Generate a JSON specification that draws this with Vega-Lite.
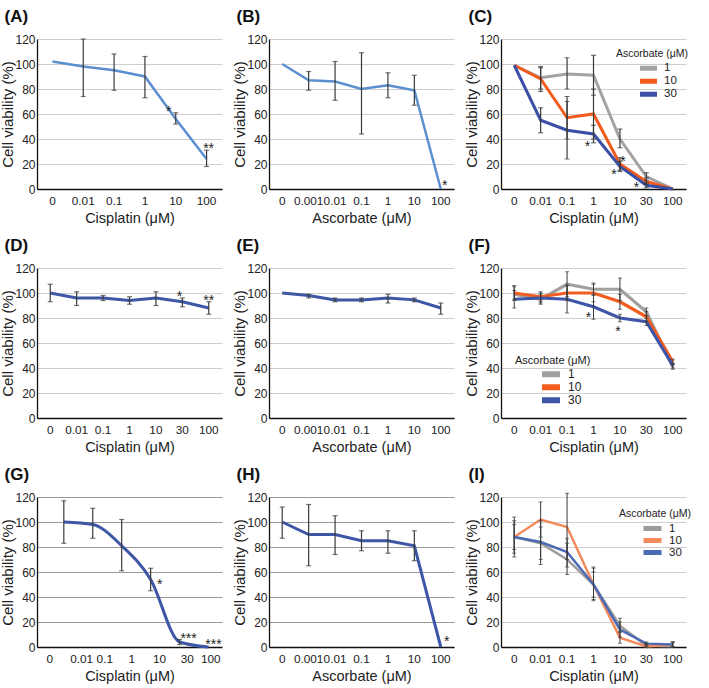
{
 "$schema": "https://vega.github.io/schema/vega-lite/v6.json",
 "padding": {"left": 0, "top": 8, "right": 0, "bottom": 0},
 "config": {
  "font": "Liberation Sans",
  "view": {"stroke": null},
  "axis": {"labelFont": "Liberation Sans", "titleFont": "Liberation Sans", "labelFontSize": 12, "titleFontSize": 14.5, "titleFontWeight": "normal", "labelColor": "#222", "titleColor": "#222", "ticks": false, "domainColor": "#111", "domainWidth": 1.3, "gridColor": "#cfcfcf", "gridWidth": 1},
  "axisX": {"labelAngle": 0, "labelPadding": 6, "titlePadding": 5, "grid": false, "labelOverlap": false, "labelFontSize": 11.8},
  "axisY": {"labelPadding": 2, "titlePadding": 1, "grid": true, "titleFontSize": 15, "tickCount": 6, "labelOverlap": false, "titleX": -21.5},
  "title": {"anchor": "start", "frame": "bounds", "fontSize": 17, "fontWeight": "bold", "offset": 7, "dx": 4, "font": "Liberation Sans", "color": "#111"},
  "legend": {"labelFont": "Liberation Sans", "titleFont": "Liberation Sans", "titleFontWeight": "normal", "labelColor": "#222", "titleColor": "#222"}
 },
 "datasets": {
  "A": [
   {"dose": "0", "v": 102},
   {"dose": "0.01", "v": 98, "lo": 74, "hi": 120},
   {"dose": "0.1", "v": 95, "lo": 79, "hi": 108},
   {"dose": "1", "v": 90, "lo": 73, "hi": 106},
   {"dose": "10", "v": 56, "lo": 52, "hi": 61},
   {"dose": "100", "v": 24, "lo": 18, "hi": 31}
  ],
  "sA1": [{"dose": "10", "v": 65, "t": "*"}],
  "sA2": [{"dose": "100", "v": 35, "t": "**"}],
  "B": [
   {"dose": "0", "v": 100},
   {"dose": "0.001", "v": 87, "lo": 79, "hi": 94},
   {"dose": "0.01", "v": 86, "lo": 71, "hi": 102},
   {"dose": "0.1", "v": 80, "lo": 44, "hi": 109},
   {"dose": "1", "v": 83, "lo": 73, "hi": 93},
   {"dose": "10", "v": 79, "lo": 67, "hi": 91},
   {"dose": "100", "v": 0}
  ],
  "sB": [{"dose": "100", "v": 6, "t": "*"}],
  "C": [
   {"dose": "0", "asc": "1", "v": 99},
   {"dose": "0.01", "asc": "1", "v": 89, "lo": 80, "hi": 98},
   {"dose": "0.1", "asc": "1", "v": 92, "lo": 80, "hi": 105},
   {"dose": "1", "asc": "1", "v": 91, "lo": 75, "hi": 107},
   {"dose": "10", "asc": "1", "v": 40, "lo": 33, "hi": 48},
   {"dose": "30", "asc": "1", "v": 10, "lo": 7, "hi": 13},
   {"dose": "100", "asc": "1", "v": 0},
   {"dose": "0", "asc": "10", "v": 99},
   {"dose": "0.01", "asc": "10", "v": 88, "lo": 78, "hi": 97},
   {"dose": "0.1", "asc": "10", "v": 57, "lo": 40, "hi": 74},
   {"dose": "1", "asc": "10", "v": 60, "lo": 40, "hi": 80},
   {"dose": "10", "asc": "10", "v": 20, "lo": 15, "hi": 25},
   {"dose": "30", "asc": "10", "v": 6, "lo": 4, "hi": 9},
   {"dose": "100", "asc": "10", "v": 0},
   {"dose": "0", "asc": "30", "v": 99},
   {"dose": "0.01", "asc": "30", "v": 55, "lo": 45, "hi": 65},
   {"dose": "0.1", "asc": "30", "v": 47, "lo": 24, "hi": 70},
   {"dose": "1", "asc": "30", "v": 44, "lo": 37, "hi": 51},
   {"dose": "10", "asc": "30", "v": 18, "lo": 14, "hi": 22},
   {"dose": "30", "asc": "30", "v": 3, "lo": 1, "hi": 5},
   {"dose": "100", "asc": "30", "v": 0}
  ],
  "sC1": [{"dose": "1", "v": 37, "t": "*"}, {"dose": "10", "v": 14.6, "t": "*"}],
  "sC2": [{"dose": "10", "v": 25, "t": "*"}],
  "sC3": [{"dose": "30", "v": 4, "t": "*"}],
  "D": [
   {"dose": "0", "v": 100, "lo": 93, "hi": 107},
   {"dose": "0.01", "v": 96, "lo": 90, "hi": 101},
   {"dose": "0.1", "v": 96, "lo": 94, "hi": 98},
   {"dose": "1", "v": 94, "lo": 91, "hi": 97},
   {"dose": "10", "v": 96, "lo": 90, "hi": 101},
   {"dose": "30", "v": 93, "lo": 89, "hi": 96},
   {"dose": "100", "v": 88, "lo": 83, "hi": 93}
  ],
  "sD1": [{"dose": "30", "v": 100, "t": "*"}],
  "sD2": [{"dose": "100", "v": 97, "t": "**"}],
  "E": [
   {"dose": "0", "v": 100},
   {"dose": "0.001", "v": 98, "lo": 96, "hi": 99},
   {"dose": "0.01", "v": 94.5, "lo": 93, "hi": 96},
   {"dose": "0.1", "v": 94.5, "lo": 93, "hi": 96},
   {"dose": "1", "v": 96, "lo": 92, "hi": 99},
   {"dose": "10", "v": 94.5, "lo": 93, "hi": 96},
   {"dose": "100", "v": 88, "lo": 83, "hi": 92}
  ],
  "F": [
   {"dose": "0", "asc": "1", "v": 99, "lo": 94, "hi": 105},
   {"dose": "0.01", "asc": "1", "v": 95, "lo": 91, "hi": 99},
   {"dose": "0.1", "asc": "1", "v": 107, "lo": 97, "hi": 117},
   {"dose": "1", "asc": "1", "v": 103, "lo": 98, "hi": 108},
   {"dose": "10", "asc": "1", "v": 103, "lo": 94, "hi": 112},
   {"dose": "30", "asc": "1", "v": 85, "lo": 82, "hi": 88},
   {"dose": "100", "asc": "1", "v": 41, "lo": 39, "hi": 43},
   {"dose": "0", "asc": "10", "v": 100, "lo": 95, "hi": 106},
   {"dose": "0.01", "asc": "10", "v": 97, "lo": 93, "hi": 101},
   {"dose": "0.1", "asc": "10", "v": 100, "lo": 94, "hi": 106},
   {"dose": "1", "asc": "10", "v": 100, "lo": 93, "hi": 107},
   {"dose": "10", "asc": "10", "v": 93, "lo": 87, "hi": 99},
   {"dose": "30", "asc": "10", "v": 81, "lo": 77, "hi": 85},
   {"dose": "100", "asc": "10", "v": 45, "lo": 43, "hi": 47},
   {"dose": "0", "asc": "30", "v": 95, "lo": 88, "hi": 102},
   {"dose": "0.01", "asc": "30", "v": 96, "lo": 92, "hi": 100},
   {"dose": "0.1", "asc": "30", "v": 95, "lo": 84, "hi": 106},
   {"dose": "1", "asc": "30", "v": 89, "lo": 79, "hi": 99},
   {"dose": "10", "asc": "30", "v": 80, "lo": 77, "hi": 83},
   {"dose": "30", "asc": "30", "v": 77, "lo": 74, "hi": 80},
   {"dose": "100", "asc": "30", "v": 42, "lo": 40, "hi": 44}
  ],
  "sF1": [{"dose": "1", "v": 83, "t": "*"}],
  "sF2": [{"dose": "10", "v": 72, "t": "*"}],
  "G": [
   {"step": 1, "v": 100, "lo": 83, "hi": 117},
   {"step": 2, "v": 98, "lo": 87, "hi": 111},
   {"step": 3, "v": 81, "lo": 61, "hi": 102},
   {"step": 4, "v": 54, "lo": 45, "hi": 63},
   {"step": 5, "v": 4, "lo": 2, "hi": 6},
   {"step": 6, "v": 0}
  ],
  "sG1": [{"step": 4, "v": 53, "t": "*"}, {"step": 5, "v": 10, "t": "***"}],
  "sG2": [{"step": 6, "v": 5, "t": "***"}],
  "H": [
   {"dose": "0", "v": 100, "lo": 87, "hi": 112},
   {"dose": "0.001", "v": 90, "lo": 65, "hi": 114},
   {"dose": "0.01", "v": 90, "lo": 74, "hi": 105},
   {"dose": "0.1", "v": 85, "lo": 77, "hi": 93},
   {"dose": "1", "v": 85, "lo": 75, "hi": 93},
   {"dose": "10", "v": 81, "lo": 69, "hi": 93},
   {"dose": "100", "v": 0}
  ],
  "sH": [{"dose": "100", "v": 7.5, "t": "*"}],
  "I": [
   {"dose": "0", "asc": "1", "v": 88, "lo": 72, "hi": 104},
   {"dose": "0.01", "asc": "1", "v": 83, "lo": 70, "hi": 96},
   {"dose": "0.1", "asc": "1", "v": 70, "lo": 58, "hi": 83},
   {"dose": "1", "asc": "1", "v": 50, "lo": 37, "hi": 63},
   {"dose": "10", "asc": "1", "v": 17, "lo": 12, "hi": 23},
   {"dose": "30", "asc": "1", "v": 1, "lo": 0, "hi": 3},
   {"dose": "100", "asc": "1", "v": 0.5, "lo": 0, "hi": 4},
   {"dose": "0", "asc": "10", "v": 88, "lo": 75, "hi": 101},
   {"dose": "0.01", "asc": "10", "v": 102, "lo": 88, "hi": 116},
   {"dose": "0.1", "asc": "10", "v": 96, "lo": 70, "hi": 123},
   {"dose": "1", "asc": "10", "v": 50, "lo": 40, "hi": 60},
   {"dose": "10", "asc": "10", "v": 7.5, "lo": 3, "hi": 12},
   {"dose": "30", "asc": "10", "v": 0.5, "lo": 0, "hi": 2},
   {"dose": "100", "asc": "10", "v": 2, "lo": 0, "hi": 4},
   {"dose": "0", "asc": "30", "v": 88, "lo": 78, "hi": 98},
   {"dose": "0.01", "asc": "30", "v": 84, "lo": 66, "hi": 101},
   {"dose": "0.1", "asc": "30", "v": 76, "lo": 64, "hi": 87},
   {"dose": "1", "asc": "30", "v": 50, "lo": 38, "hi": 64},
   {"dose": "10", "asc": "30", "v": 14, "lo": 8, "hi": 20},
   {"dose": "30", "asc": "30", "v": 2.7, "lo": 1, "hi": 4},
   {"dose": "100", "asc": "30", "v": 2, "lo": 0, "hi": 4}
  ]
 },
 "columns": 3,
 "spacing": {"row": 79, "column": 47},
 "bounds": "flush",
 "resolve": {"scale": {"x": "independent", "y": "independent", "color": "independent"}, "legend": {"color": "independent"}, "axis": {"x": "independent", "y": "independent"}},
 "concat": [
  {
   "title": "(A)", "width": 185, "height": 150,
   "layer": [
    {"data": {"name": "A"}, "mark": {"type": "line", "color": "#5b8fcf", "strokeWidth": 2.5},
     "encoding": {"x": {"field": "dose", "type": "ordinal", "scale": {"domain": ["0", "0.01", "0.1", "1", "10", "100"]}, "axis": {"title": "Cisplatin (μM)"}},
      "y": {"field": "v", "type": "quantitative", "scale": {"domain": [0, 120], "nice": false}, "title": "Cell viability (%)"},
      "order": {"value": null}}},
    {"data": {"name": "A"}, "transform": [{"filter": "isValid(datum.lo)"}], "mark": {"type": "errorbar", "ticks": {"size": 5}, "color": "#3a3a3a", "thickness": 1.2},
     "encoding": {"x": {"field": "dose", "type": "ordinal", "scale": {"domain": ["0", "0.01", "0.1", "1", "10", "100"]}, "axis": {"title": "Cisplatin (μM)"}},
      "y": {"field": "lo", "type": "quantitative", "scale": {"domain": [0, 120], "nice": false}, "title": "Cell viability (%)"}, "y2": {"field": "hi"}}},
    {"data": {"name": "sA1"}, "mark": {"type": "text", "fontSize": 14, "baseline": "alphabetic", "dy": 8, "dx": -7, "color": "#222"},
     "encoding": {"x": {"field": "dose", "type": "ordinal", "scale": {"domain": ["0", "0.01", "0.1", "1", "10", "100"]}, "axis": {"title": "Cisplatin (μM)"}},
      "y": {"field": "v", "type": "quantitative", "scale": {"domain": [0, 120], "nice": false}, "title": "Cell viability (%)"}, "text": {"field": "t"}}},
    {"data": {"name": "sA2"}, "mark": {"type": "text", "fontSize": 14, "baseline": "alphabetic", "dy": 8, "dx": 2, "color": "#222"},
     "encoding": {"x": {"field": "dose", "type": "ordinal", "scale": {"domain": ["0", "0.01", "0.1", "1", "10", "100"]}, "axis": {"title": "Cisplatin (μM)"}},
      "y": {"field": "v", "type": "quantitative", "scale": {"domain": [0, 120], "nice": false}, "title": "Cell viability (%)"}, "text": {"field": "t"}}}
   ]
  },
  {
   "title": "(B)", "width": 185, "height": 150,
   "layer": [
    {"data": {"name": "B"}, "mark": {"type": "line", "color": "#5b8fcf", "strokeWidth": 2.5},
     "encoding": {"x": {"field": "dose", "type": "ordinal", "scale": {"domain": ["0", "0.001", "0.01", "0.1", "1", "10", "100"]}, "axis": {"title": "Ascorbate (μM)"}},
      "y": {"field": "v", "type": "quantitative", "scale": {"domain": [0, 120], "nice": false}, "title": "Cell viability (%)"},
      "order": {"value": null}}},
    {"data": {"name": "B"}, "transform": [{"filter": "isValid(datum.lo)"}], "mark": {"type": "errorbar", "ticks": {"size": 5}, "color": "#3a3a3a", "thickness": 1.2},
     "encoding": {"x": {"field": "dose", "type": "ordinal", "scale": {"domain": ["0", "0.001", "0.01", "0.1", "1", "10", "100"]}, "axis": {"title": "Ascorbate (μM)"}},
      "y": {"field": "lo", "type": "quantitative", "scale": {"domain": [0, 120], "nice": false}, "title": "Cell viability (%)"}, "y2": {"field": "hi"}}},
    {"data": {"name": "sB"}, "mark": {"type": "text", "fontSize": 14, "baseline": "alphabetic", "dy": 8, "dx": 4, "color": "#222"},
     "encoding": {"x": {"field": "dose", "type": "ordinal", "scale": {"domain": ["0", "0.001", "0.01", "0.1", "1", "10", "100"]}, "axis": {"title": "Ascorbate (μM)"}},
      "y": {"field": "v", "type": "quantitative", "scale": {"domain": [0, 120], "nice": false}, "title": "Cell viability (%)"}, "text": {"field": "t"}}}
   ]
  },
  {
   "title": "(C)", "width": 185, "height": 150,
   "layer": [
    {"data": {"name": "C"}, "mark": {"type": "line", "strokeWidth": 3},
     "encoding": {"x": {"field": "dose", "type": "ordinal", "scale": {"domain": ["0", "0.01", "0.1", "1", "10", "30", "100"]}, "axis": {"title": "Cisplatin (μM)"}},
      "y": {"field": "v", "type": "quantitative", "scale": {"domain": [0, 120], "nice": false}, "title": "Cell viability (%)"},
      "color": {"field": "asc", "type": "nominal", "scale": {"domain": ["1", "10", "30"], "range": ["#a3a3a3", "#f25a1e", "#3a4fa5"]},
       "legend": {"orient": "none", "legendX": 115, "legendY": 10, "title": "Ascorbate (μM)", "symbolType": "M-1.7,0H1.7", "symbolStrokeWidth": 5, "symbolSize": 100, "symbolOffset": 25, "labelFontSize": 11.5, "titleFontSize": 10.5, "rowPadding": 0, "clipHeight": 11.5, "titlePadding": 3, "labelOffset": 8, "labelExpr": "datum.label == '1' ? '\u00a0\u00a01' : datum.label"}},
      "order": {"value": null}}},
    {"data": {"name": "C"}, "transform": [{"filter": "isValid(datum.lo)"}], "mark": {"type": "errorbar", "ticks": {"size": 5}, "color": "#3a3a3a", "thickness": 1.2},
     "encoding": {"x": {"field": "dose", "type": "ordinal", "scale": {"domain": ["0", "0.01", "0.1", "1", "10", "30", "100"]}, "axis": {"title": "Cisplatin (μM)"}},
      "y": {"field": "lo", "type": "quantitative", "scale": {"domain": [0, 120], "nice": false}, "title": "Cell viability (%)"}, "y2": {"field": "hi"}}},
    {"data": {"name": "sC1"}, "mark": {"type": "text", "fontSize": 14, "baseline": "alphabetic", "dy": 8, "dx": -6, "color": "#222"},
     "encoding": {"x": {"field": "dose", "type": "ordinal", "scale": {"domain": ["0", "0.01", "0.1", "1", "10", "30", "100"]}, "axis": {"title": "Cisplatin (μM)"}},
      "y": {"field": "v", "type": "quantitative", "scale": {"domain": [0, 120], "nice": false}, "title": "Cell viability (%)"}, "text": {"field": "t"}}},
    {"data": {"name": "sC2"}, "mark": {"type": "text", "fontSize": 14, "baseline": "alphabetic", "dy": 8, "dx": 3, "color": "#222"},
     "encoding": {"x": {"field": "dose", "type": "ordinal", "scale": {"domain": ["0", "0.01", "0.1", "1", "10", "30", "100"]}, "axis": {"title": "Cisplatin (μM)"}},
      "y": {"field": "v", "type": "quantitative", "scale": {"domain": [0, 120], "nice": false}, "title": "Cell viability (%)"}, "text": {"field": "t"}}},
    {"data": {"name": "sC3"}, "mark": {"type": "text", "fontSize": 14, "baseline": "alphabetic", "dy": 8, "dx": -10, "color": "#222"},
     "encoding": {"x": {"field": "dose", "type": "ordinal", "scale": {"domain": ["0", "0.01", "0.1", "1", "10", "30", "100"]}, "axis": {"title": "Cisplatin (μM)"}},
      "y": {"field": "v", "type": "quantitative", "scale": {"domain": [0, 120], "nice": false}, "title": "Cell viability (%)"}, "text": {"field": "t"}}}
   ]
  },
  {
   "title": "(D)", "width": 185, "height": 150,
   "layer": [
    {"data": {"name": "D"}, "mark": {"type": "line", "color": "#3d56a6", "strokeWidth": 3},
     "encoding": {"x": {"field": "dose", "type": "ordinal", "scale": {"domain": ["0", "0.01", "0.1", "1", "10", "30", "100"]}, "axis": {"title": "Cisplatin (μM)"}},
      "y": {"field": "v", "type": "quantitative", "scale": {"domain": [0, 120], "nice": false}, "title": "Cell viability (%)"},
      "order": {"value": null}}},
    {"data": {"name": "D"}, "transform": [{"filter": "isValid(datum.lo)"}], "mark": {"type": "errorbar", "ticks": {"size": 5}, "color": "#3a3a3a", "thickness": 1.2},
     "encoding": {"x": {"field": "dose", "type": "ordinal", "scale": {"domain": ["0", "0.01", "0.1", "1", "10", "30", "100"]}, "axis": {"title": "Cisplatin (μM)"}},
      "y": {"field": "lo", "type": "quantitative", "scale": {"domain": [0, 120], "nice": false}, "title": "Cell viability (%)"}, "y2": {"field": "hi"}}},
    {"data": {"name": "sD1"}, "mark": {"type": "text", "fontSize": 14, "baseline": "alphabetic", "dy": 8, "dx": -3, "color": "#222"},
     "encoding": {"x": {"field": "dose", "type": "ordinal", "scale": {"domain": ["0", "0.01", "0.1", "1", "10", "30", "100"]}, "axis": {"title": "Cisplatin (μM)"}},
      "y": {"field": "v", "type": "quantitative", "scale": {"domain": [0, 120], "nice": false}, "title": "Cell viability (%)"}, "text": {"field": "t"}}},
    {"data": {"name": "sD2"}, "mark": {"type": "text", "fontSize": 14, "baseline": "alphabetic", "dy": 8, "dx": 0, "color": "#222"},
     "encoding": {"x": {"field": "dose", "type": "ordinal", "scale": {"domain": ["0", "0.01", "0.1", "1", "10", "30", "100"]}, "axis": {"title": "Cisplatin (μM)"}},
      "y": {"field": "v", "type": "quantitative", "scale": {"domain": [0, 120], "nice": false}, "title": "Cell viability (%)"}, "text": {"field": "t"}}}
   ]
  },
  {
   "title": "(E)", "width": 185, "height": 150,
   "layer": [
    {"data": {"name": "E"}, "mark": {"type": "line", "color": "#3d56a6", "strokeWidth": 3},
     "encoding": {"x": {"field": "dose", "type": "ordinal", "scale": {"domain": ["0", "0.001", "0.01", "0.1", "1", "10", "100"]}, "axis": {"title": "Ascorbate (μM)"}},
      "y": {"field": "v", "type": "quantitative", "scale": {"domain": [0, 120], "nice": false}, "title": "Cell viability (%)"},
      "order": {"value": null}}},
    {"data": {"name": "E"}, "transform": [{"filter": "isValid(datum.lo)"}], "mark": {"type": "errorbar", "ticks": {"size": 5}, "color": "#3a3a3a", "thickness": 1.2},
     "encoding": {"x": {"field": "dose", "type": "ordinal", "scale": {"domain": ["0", "0.001", "0.01", "0.1", "1", "10", "100"]}, "axis": {"title": "Ascorbate (μM)"}},
      "y": {"field": "lo", "type": "quantitative", "scale": {"domain": [0, 120], "nice": false}, "title": "Cell viability (%)"}, "y2": {"field": "hi"}}}
   ]
  },
  {
   "title": "(F)", "width": 185, "height": 150,
   "layer": [
    {"data": {"name": "F"}, "mark": {"type": "line", "strokeWidth": 3.2},
     "encoding": {"x": {"field": "dose", "type": "ordinal", "scale": {"domain": ["0", "0.01", "0.1", "1", "10", "30", "100"]}, "axis": {"title": "Cisplatin (μM)"}},
      "y": {"field": "v", "type": "quantitative", "scale": {"domain": [0, 120], "nice": false}, "title": "Cell viability (%)"},
      "color": {"field": "asc", "type": "nominal", "scale": {"domain": ["1", "10", "30"], "range": ["#a0a0a0", "#f25c1f", "#3f55a8"]},
       "legend": {"orient": "none", "legendX": 14, "legendY": 87, "title": "Ascorbate (μM)", "symbolType": "M-1.5,0H1.5", "symbolStrokeWidth": 6, "symbolSize": 144, "symbolOffset": 27, "labelFontSize": 12, "titleFontSize": 11, "rowPadding": 0, "clipHeight": 12.3, "titlePadding": 2, "labelOffset": 8, "labelExpr": "datum.label == '1' ? '\u00a0\u00a01' : datum.label"}},
      "order": {"value": null}}},
    {"data": {"name": "F"}, "transform": [{"filter": "isValid(datum.lo)"}], "mark": {"type": "errorbar", "ticks": {"size": 4}, "color": "#3a3a3a", "thickness": 1},
     "encoding": {"x": {"field": "dose", "type": "ordinal", "scale": {"domain": ["0", "0.01", "0.1", "1", "10", "30", "100"]}, "axis": {"title": "Cisplatin (μM)"}},
      "y": {"field": "lo", "type": "quantitative", "scale": {"domain": [0, 120], "nice": false}, "title": "Cell viability (%)"}, "y2": {"field": "hi"}}},
    {"data": {"name": "sF1"}, "mark": {"type": "text", "fontSize": 14, "baseline": "alphabetic", "dy": 8, "dx": -5, "color": "#222"},
     "encoding": {"x": {"field": "dose", "type": "ordinal", "scale": {"domain": ["0", "0.01", "0.1", "1", "10", "30", "100"]}, "axis": {"title": "Cisplatin (μM)"}},
      "y": {"field": "v", "type": "quantitative", "scale": {"domain": [0, 120], "nice": false}, "title": "Cell viability (%)"}, "text": {"field": "t"}}},
    {"data": {"name": "sF2"}, "mark": {"type": "text", "fontSize": 14, "baseline": "alphabetic", "dy": 8, "dx": -2, "color": "#222"},
     "encoding": {"x": {"field": "dose", "type": "ordinal", "scale": {"domain": ["0", "0.01", "0.1", "1", "10", "30", "100"]}, "axis": {"title": "Cisplatin (μM)"}},
      "y": {"field": "v", "type": "quantitative", "scale": {"domain": [0, 120], "nice": false}, "title": "Cell viability (%)"}, "text": {"field": "t"}}}
   ]
  },
  {
   "title": "(G)", "width": 185, "height": 150,
   "layer": [
    {"data": {"name": "G"}, "mark": {"type": "line", "color": "#3d56a6", "strokeWidth": 3, "interpolate": "monotone"},
     "encoding": {"x": {"field": "step", "type": "quantitative", "scale": {"domain": [0.073, 6.467], "nice": false, "zero": false}, "axis": {"title": "Cisplatin (μM)", "values": [0.5, 1.6, 2.4, 3.33, 4.29, 5.25, 6.06], "labelExpr": "datum.value < 1 ? '0' : datum.value < 2 ? '0.01' : datum.value < 3 ? '0.1' : datum.value < 4 ? '1' : datum.value < 5 ? '10' : datum.value < 6 ? '30' : '100'", "labelOverlap": false, "labelFlush": false, "grid": false}},
      "y": {"field": "v", "type": "quantitative", "scale": {"domain": [0, 120], "nice": false}, "axis": {"gridColor": "#9a9a9a"}, "title": "Cell viability (%)"},
      "order": {"value": null}}},
    {"data": {"name": "G"}, "transform": [{"filter": "isValid(datum.lo)"}], "mark": {"type": "errorbar", "ticks": {"size": 5}, "color": "#3a3a3a", "thickness": 1.2},
     "encoding": {"x": {"field": "step", "type": "quantitative", "scale": {"domain": [0.073, 6.467], "nice": false, "zero": false}, "axis": {"title": "Cisplatin (μM)", "values": [0.5, 1.6, 2.4, 3.33, 4.29, 5.25, 6.06], "labelExpr": "datum.value < 1 ? '0' : datum.value < 2 ? '0.01' : datum.value < 3 ? '0.1' : datum.value < 4 ? '1' : datum.value < 5 ? '10' : datum.value < 6 ? '30' : '100'", "labelOverlap": false, "labelFlush": false, "grid": false}},
      "y": {"field": "lo", "type": "quantitative", "scale": {"domain": [0, 120], "nice": false}, "title": "Cell viability (%)"}, "y2": {"field": "hi"}}},
    {"data": {"name": "sG1"}, "mark": {"type": "text", "fontSize": 14, "baseline": "alphabetic", "dy": 8, "dx": 9, "color": "#222"},
     "encoding": {"x": {"field": "step", "type": "quantitative", "scale": {"domain": [0.073, 6.467], "nice": false, "zero": false}, "axis": {"title": "Cisplatin (μM)", "values": [0.5, 1.6, 2.4, 3.33, 4.29, 5.25, 6.06], "labelExpr": "datum.value < 1 ? '0' : datum.value < 2 ? '0.01' : datum.value < 3 ? '0.1' : datum.value < 4 ? '1' : datum.value < 5 ? '10' : datum.value < 6 ? '30' : '100'", "labelOverlap": false, "labelFlush": false, "grid": false}},
      "y": {"field": "v", "type": "quantitative", "scale": {"domain": [0, 120], "nice": false}, "title": "Cell viability (%)"}, "text": {"field": "t"}}},
    {"data": {"name": "sG2"}, "mark": {"type": "text", "fontSize": 14, "baseline": "alphabetic", "dy": 8, "dx": 5, "color": "#222"},
     "encoding": {"x": {"field": "step", "type": "quantitative", "scale": {"domain": [0.073, 6.467], "nice": false, "zero": false}, "axis": {"title": "Cisplatin (μM)", "values": [0.5, 1.6, 2.4, 3.33, 4.29, 5.25, 6.06], "labelExpr": "datum.value < 1 ? '0' : datum.value < 2 ? '0.01' : datum.value < 3 ? '0.1' : datum.value < 4 ? '1' : datum.value < 5 ? '10' : datum.value < 6 ? '30' : '100'", "labelOverlap": false, "labelFlush": false, "grid": false}},
      "y": {"field": "v", "type": "quantitative", "scale": {"domain": [0, 120], "nice": false}, "title": "Cell viability (%)"}, "text": {"field": "t"}}}
   ]
  },
  {
   "title": "(H)", "width": 185, "height": 150,
   "layer": [
    {"data": {"name": "H"}, "mark": {"type": "line", "color": "#3d56a6", "strokeWidth": 3},
     "encoding": {"x": {"field": "dose", "type": "ordinal", "scale": {"domain": ["0", "0.001", "0.01", "0.1", "1", "10", "100"]}, "axis": {"title": "Ascorbate (μM)"}},
      "y": {"field": "v", "type": "quantitative", "scale": {"domain": [0, 120], "nice": false}, "axis": {"gridColor": "#9a9a9a"}, "title": "Cell viability (%)"},
      "order": {"value": null}}},
    {"data": {"name": "H"}, "transform": [{"filter": "isValid(datum.lo)"}], "mark": {"type": "errorbar", "ticks": {"size": 5}, "color": "#3a3a3a", "thickness": 1.2},
     "encoding": {"x": {"field": "dose", "type": "ordinal", "scale": {"domain": ["0", "0.001", "0.01", "0.1", "1", "10", "100"]}, "axis": {"title": "Ascorbate (μM)"}},
      "y": {"field": "lo", "type": "quantitative", "scale": {"domain": [0, 120], "nice": false}, "title": "Cell viability (%)"}, "y2": {"field": "hi"}}},
    {"data": {"name": "sH"}, "mark": {"type": "text", "fontSize": 14, "baseline": "alphabetic", "dy": 8, "dx": 6, "color": "#222"},
     "encoding": {"x": {"field": "dose", "type": "ordinal", "scale": {"domain": ["0", "0.001", "0.01", "0.1", "1", "10", "100"]}, "axis": {"title": "Ascorbate (μM)"}},
      "y": {"field": "v", "type": "quantitative", "scale": {"domain": [0, 120], "nice": false}, "title": "Cell viability (%)"}, "text": {"field": "t"}}}
   ]
  },
  {
   "title": "(I)", "width": 185, "height": 150,
   "layer": [
    {"data": {"name": "I"}, "mark": {"type": "line", "strokeWidth": 2.5},
     "encoding": {"x": {"field": "dose", "type": "ordinal", "scale": {"domain": ["0", "0.01", "0.1", "1", "10", "30", "100"]}, "axis": {"title": "Cisplatin (μM)"}},
      "y": {"field": "v", "type": "quantitative", "scale": {"domain": [0, 120], "nice": false}, "title": "Cell viability (%)"},
      "color": {"field": "asc", "type": "nominal", "scale": {"domain": ["1", "10", "30"], "range": ["#9c9c9c", "#f48b5c", "#4c6bb5"]},
       "legend": {"orient": "none", "legendX": 118, "legendY": 12, "title": "Ascorbate (μM)", "symbolType": "M-1.5,0H1.5", "symbolStrokeWidth": 5, "symbolSize": 144, "symbolOffset": 25, "labelFontSize": 11.5, "titleFontSize": 10.5, "rowPadding": 0, "clipHeight": 12, "titlePadding": 3, "labelOffset": 8, "labelExpr": "datum.label == '1' ? '\u00a0\u00a01' : datum.label"}},
      "order": {"value": null}}},
    {"data": {"name": "I"}, "transform": [{"filter": "isValid(datum.lo)"}], "mark": {"type": "errorbar", "ticks": {"size": 4}, "color": "#3a3a3a", "thickness": 1},
     "encoding": {"x": {"field": "dose", "type": "ordinal", "scale": {"domain": ["0", "0.01", "0.1", "1", "10", "30", "100"]}, "axis": {"title": "Cisplatin (μM)"}},
      "y": {"field": "lo", "type": "quantitative", "scale": {"domain": [0, 120], "nice": false}, "title": "Cell viability (%)"}, "y2": {"field": "hi"}}}
   ]
  }
 ]
}
